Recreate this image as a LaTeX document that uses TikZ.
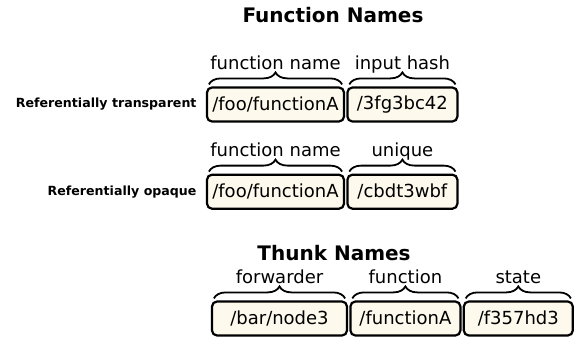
\documentclass[tikz,border=0pt]{standalone}
\usepackage{fontspec}
\setmainfont{DejaVu Sans}
\usepackage{xcolor}
\usepackage{tikz}
\usetikzlibrary{positioning, decorations.pathreplacing}
\definecolor{namefill}{RGB}{253,250,237}
\tikzstyle{segment} = [rectangle, rounded corners=2.5pt, minimum height=17pt, inner sep=0pt, text centered, draw=black, line width=1.1pt, fill=namefill, font=\fontsize{9}{10}\selectfont]
\tikzstyle{brace} = [decorate, decoration={brace, amplitude=6pt, raise=1pt}, line width=0.9pt]
\tikzstyle{part} = [anchor=base, yshift=8.6pt, inner sep=0pt, font=\fontsize{9}{10}\selectfont]
\tikzstyle{kind} = [inner sep=0pt, font=\bfseries\fontsize{6.3}{7}\selectfont]
\tikzstyle{heading} = [anchor=base, inner sep=0pt, font=\bfseries\fontsize{10}{12}\selectfont]

\begin{document}
\begin{tikzpicture}[node distance=0.6pt]
    \useasboundingbox (0,0) rectangle (287pt,-169.5pt);

    % function names
    \node (ftitle) [heading] at (166.5pt,-11pt) {Function Names};
    \node (tfunc) [segment, minimum width=68.5pt] at (137.75pt,-52.25pt) {/foo/functionA};
    \node (thash) [segment, minimum width=55pt, right=of tfunc] {/3fg3bc42};
    \node (tkind) [kind, left=4.5pt of tfunc] {Referentially transparent};

    \node (ofunc) [segment, minimum width=68.5pt, below=25.5pt of tfunc] {/foo/functionA};
    \node (ouniq) [segment, minimum width=55pt, right=of ofunc] {/cbdt3wbf};
    \node (okind) [kind, left=4.5pt of ofunc] {Referentially opaque};

    \draw [brace] ([xshift=1.5pt]tfunc.north west) -- ([xshift=-1.5pt]tfunc.north east) node [part, midway] {function name};
    \draw [brace] ([xshift=1.5pt]thash.north west) -- ([xshift=-1.5pt]thash.north east) node [part, midway] {input hash};
    \draw [brace] ([xshift=1.5pt]ofunc.north west) -- ([xshift=-1.5pt]ofunc.north east) node [part, midway] {function name};
    \draw [brace] ([xshift=1.5pt]ouniq.north west) -- ([xshift=-1.5pt]ouniq.north east) node [part, midway] {unique};

    % thunk names
    \node (ttitle) [heading] at (167pt,-130pt) {Thunk Names};
    \node (fwd) [segment, minimum width=67.5pt] at (139.75pt,-159.25pt) {/bar/node3};
    \node (fn) [segment, minimum width=55pt, right=of fwd] {/functionA};
    \node (st) [segment, minimum width=54.5pt, right=of fn] {/f357hd3};

    \draw [brace] ([xshift=1.5pt]fwd.north west) -- ([xshift=-1.5pt]fwd.north east) node [part, midway] {forwarder};
    \draw [brace] ([xshift=1.5pt]fn.north west) -- ([xshift=-1.5pt]fn.north east) node [part, midway] {function};
    \draw [brace] ([xshift=1.5pt]st.north west) -- ([xshift=-1.5pt]st.north east) node [part, midway] {state};
\end{tikzpicture}
\end{document}
